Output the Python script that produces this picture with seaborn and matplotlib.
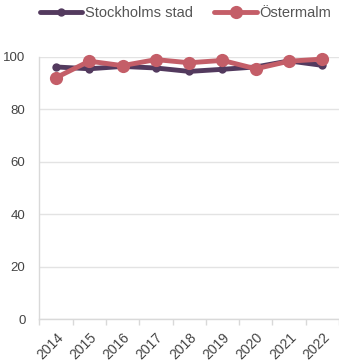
import matplotlib
matplotlib.use("Agg")
import matplotlib.pyplot as plt
import seaborn as sns
import pandas as pd
import numpy as np
from matplotlib.ticker import FixedLocator

years = ["2014", "2015", "2016", "2017", "2018", "2019", "2020", "2021", "2022"]
stockholm = [96.2, 95.5, 96.4, 95.8, 94.5, 95.3, 96.2, 98.5, 96.8]
ostermalm = [92.1, 98.4, 96.7, 99.0, 97.8, 98.7, 95.5, 98.4, 99.2]
series_names = ["Stockholms stad", "Östermalm"]
y_ticks = [0, 20, 40, 60, 80, 100]

sns.set_theme(style="white")
plt.rcParams["font.family"] = ["Liberation Sans", "DejaVu Sans"]

df = pd.DataFrame({
    "year": years * 2,
    "value": stockholm + ostermalm,
    "series": [series_names[0]] * len(years) + [series_names[1]] * len(years),
})
df["x"] = list(range(len(years))) * 2

fig = plt.figure(figsize=(3.39, 3.63), dpi=100)
ax = fig.add_axes([0.116, 0.121, 0.884, 0.722])

colors = {"Stockholms stad": "#533a5e", "Östermalm": "#c45e68"}
sns.lineplot(data=df[df.series == series_names[0]], x="x", y="value", color=colors[series_names[0]],
             lw=3.5, marker="o", markersize=6, markeredgewidth=0, ax=ax, label=series_names[0], clip_on=False)
sns.lineplot(data=df[df.series == series_names[1]], x="x", y="value", color=colors[series_names[1]],
             lw=3.5, marker="o", markersize=9.5, markeredgewidth=0, ax=ax, label=series_names[1], clip_on=False)

ax.set_xlim(-0.5, len(years) - 0.5)
ax.set_ylim(0, 100)
ax.set_xticks(range(len(years)))
ax.set_xticklabels(years, rotation=45, ha="right", rotation_mode="anchor", fontsize=10, color="#444444")
ax.xaxis.set_minor_locator(FixedLocator(np.arange(-0.5, len(years), 1.0)))
ax.tick_params(axis="x", which="major", length=0, pad=8)
ax.tick_params(axis="x", which="minor", length=4, color="#d9d9d9", width=1, bottom=True)
ax.set_yticks(y_ticks)
ax.set_yticklabels([str(t) for t in y_ticks], fontsize=9.5, color="#444444")
ax.tick_params(axis="y", length=0, pad=10)
ax.grid(axis="y", color="#e3e3e3", lw=1)
ax.set_axisbelow(True)
for s in ["top", "right"]:
    ax.spines[s].set_visible(False)
for s in ["left", "bottom"]:
    ax.spines[s].set_color("#d9d9d9")
    ax.spines[s].set_linewidth(1)
ax.set_xlabel("")
ax.set_ylabel("")

leg = ax.legend(loc="center", ncol=2, frameon=False,
                fontsize=10.5, handlelength=2.9, handletextpad=0.15, columnspacing=1.5,
                labelcolor="#555555", borderpad=0, borderaxespad=0)
leg.set_bbox_to_anchor((0.547, 0.964), transform=fig.transFigure)

fig.savefig("out.png", dpi=100)
